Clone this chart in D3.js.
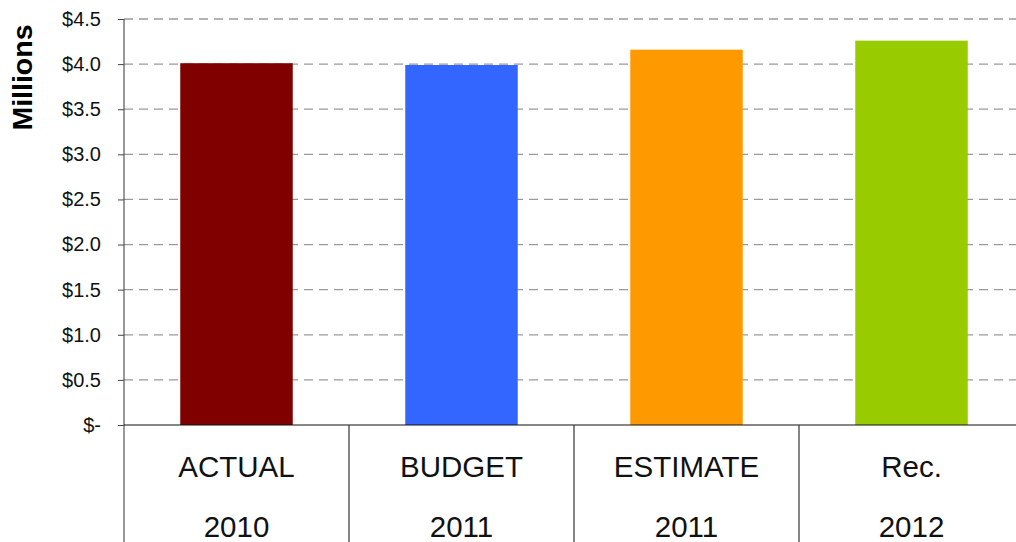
<!DOCTYPE html>
<html>
<head>
<meta charset="utf-8">
<script src="https://cdn.jsdelivr.net/npm/d3@7"></script>
<style>
  html, body { margin: 0; padding: 0; background: #fff; }
  svg { display: block; font-family: "Liberation Sans", Arial, Helvetica, sans-serif; }
</style>
</head>
<body>
<svg id="chart" width="1016" height="542"></svg>
<script>
// Spending by year, in millions of dollars
const categoryTop = ["ACTUAL", "BUDGET", "ESTIMATE", "Rec."];
const categoryYear = ["2010", "2011", "2011", "2012"];
const values = [4.01, 3.99, 4.16, 4.26];
const barColors = ["#800000", "#3366FF", "#FF9900", "#99CC00"];
const yTicks = [0, 0.5, 1.0, 1.5, 2.0, 2.5, 3.0, 3.5, 4.0, 4.5];

(function () {
  const svg = d3.select("#chart");
  const plotLeft = 124, plotRight = 1024, plotTop = 19, baseY = 425, plotBottom = 542;
  const keys = categoryTop.map((d, i) => i);

  const x = d3.scaleBand().domain(keys).range([plotLeft, plotRight])
    .paddingInner(0.5).paddingOuter(0.25);
  const y = d3.scaleLinear().domain([0, 4.5]).range([baseY, plotTop]);

  // dashed horizontal gridlines
  svg.append("g").selectAll("line").data(yTicks.filter(d => d > 0)).join("line")
    .attr("x1", plotLeft).attr("x2", plotRight)
    .attr("y1", d => y(d)).attr("y2", d => y(d))
    .attr("stroke", "#9a9a9a").attr("stroke-width", 1.3)
    .attr("stroke-dasharray", "9,6");

  // bars
  svg.append("g").selectAll("rect").data(keys).join("rect")
    .attr("x", i => x(i)).attr("width", x.bandwidth())
    .attr("y", i => y(values[i])).attr("height", i => y(0) - y(values[i]))
    .attr("fill", i => barColors[i]);

  // value axis
  const yAxis = d3.axisLeft(y).tickValues(yTicks).tickSize(6).tickPadding(17)
    .tickFormat(d => d === 0 ? "$-" : "$" + d.toFixed(1));
  const gy = svg.append("g").attr("transform", `translate(${plotLeft},0)`).call(yAxis);
  gy.select(".domain").remove();
  gy.selectAll(".tick line").attr("stroke", "#444");
  gy.selectAll(".tick text").attr("font-size", 20).attr("fill", "#111")
    .attr("font-family", "Liberation Sans, Arial, sans-serif");

  // axis lines
  svg.append("line").attr("x1", plotLeft).attr("x2", plotLeft).attr("y1", plotTop).attr("y2", plotBottom)
    .attr("stroke", "#555").attr("stroke-width", 1.2);
  svg.append("line").attr("x1", plotLeft).attr("x2", plotRight).attr("y1", baseY).attr("y2", baseY)
    .attr("stroke", "#111").attr("stroke-width", 1.2);

  // category dividers below the baseline
  const gap = (x.step() - x.bandwidth()) / 2;
  svg.append("g").selectAll("line").data(keys.slice(1)).join("line")
    .attr("x1", i => x(i) - gap).attr("x2", i => x(i) - gap)
    .attr("y1", baseY).attr("y2", plotBottom)
    .attr("stroke", "#333").attr("stroke-width", 1.2);

  // two-line category labels
  const labels = svg.append("g").selectAll("g").data(keys).join("g")
    .attr("transform", i => `translate(${x(i) + x.bandwidth() / 2},0)`);
  labels.append("text").attr("y", 477).attr("text-anchor", "middle")
    .attr("font-size", 29.5).attr("fill", "#111").text(i => categoryTop[i]);
  labels.append("text").attr("y", 537).attr("text-anchor", "middle")
    .attr("font-size", 29.5).attr("fill", "#111").text(i => categoryYear[i]);

  // axis title
  svg.append("text")
    .attr("transform", "translate(32,77.5) rotate(-90)")
    .attr("text-anchor", "middle").attr("font-size", 28.5).attr("font-weight", "bold")
    .attr("fill", "#000").text("Millions");
})();
</script>
</body>
</html>
